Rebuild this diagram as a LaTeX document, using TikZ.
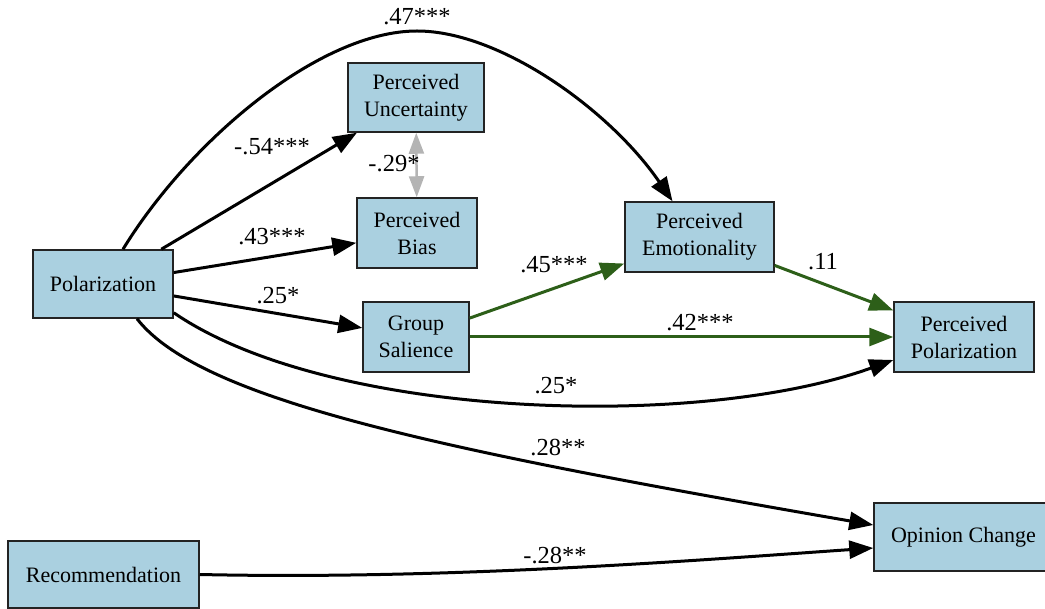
\documentclass[tikz,border=0pt]{standalone}
\usepackage{fontspec}
\setmainfont{LiberationSerif}[Extension=.ttf, UprightFont=*-Regular, BoldFont=*-Bold]
\usetikzlibrary{arrows.meta}
\definecolor{boxfill}{RGB}{170,208,224}
\definecolor{pathgreen}{RGB}{45,95,25}
\definecolor{corrgray}{RGB}{180,180,180}
\definecolor{boxline}{RGB}{35,35,35}
\tikzset{
  box/.style={draw=boxline, line width=1.5pt, fill=boxfill, inner sep=0pt, align=center,
    font=\rmfamily\fontsize{22}{27}\selectfont},
  lbl/.style={anchor=base, inner sep=0pt, font=\rmfamily\fontsize{24.5}{28}\selectfont},
  edgeblk/.style={line width=3pt, draw=black, -{Triangle[length=24pt,width=18pt]}},
  edgegrn/.style={line width=3pt, draw=pathgreen, -{Triangle[length=24pt,width=18pt]}},
  edgecorr/.style={line width=2.5pt, draw=corrgray,
    {Triangle[length=21pt,width=15pt]}-{Triangle[length=21pt,width=15pt]}},
}
\begin{document}
\begin{tikzpicture}[x=1pt,y=-1pt]
\useasboundingbox (0,0) rectangle (1045,609);
% nodes
\node[box, minimum width=140pt, minimum height=68pt] (pol) at (103,284) {Polarization};
\node[box, minimum width=136pt, minimum height=69pt] (unc) at (416,97.5) {Perceived\\Uncertainty};
\node[box, minimum width=120pt, minimum height=70pt] (bias) at (417,233) {Perceived\\Bias};
\node[box, minimum width=149pt, minimum height=70pt] (emo) at (699.5,237) {Perceived\\Emotionality};
\node[box, minimum width=140pt, minimum height=70pt] (pp) at (964,337) {Perceived\\Polarization};
\node[box, minimum width=106pt, minimum height=70pt] (grp) at (416,337) {Group\\Salience};
\node[box, minimum width=191pt, minimum height=67pt] (rec) at (103.5,574.5) {Recommendation};
\node[box, minimum width=179pt, minimum height=68pt] (opc) at (963.5,537) {Opinion Change};
\coordinate (apex) at (417,31);
% edges
\draw[edgeblk] (pol) -- (unc);
\draw[edgeblk] (pol) -- (bias);
\draw[edgeblk] (pol) -- (grp);
\draw[edgeblk] ([xshift=20pt]pol.north) .. controls (190,140) and (320,31) .. (apex)
  .. controls (500,31) and (610,110) .. ([xshift=-27pt]emo.north);
\draw[edgeblk] ([yshift=6pt]pol.south east) .. controls (330,420) and (700,430) .. ([yshift=-23pt]pp.west);
\draw[edgeblk] ([xshift=34pt]pol.south) .. controls (200,400) and (440,450) .. ([yshift=12pt]opc.west);
\draw[edgeblk] (rec.east) .. controls (450,580) and (700,560) .. ([yshift=-11pt]opc.west);
\draw[edgegrn] (grp) -- (emo);
\draw[edgegrn] (grp) -- (pp);
\draw[edgegrn] (emo) -- (pp);
\draw[edgecorr] (bias) -- (unc);
% labels
\node[lbl] (l47) at (417,25) {.47***};
\node[lbl] (l54) at (272,155) {-.54***};
\node[lbl] (l43) at (272,245) {.43***};
\node[lbl] (l25a) at (278,304) {.25*};
\node[lbl] (l29) at (394,172) {-.29*};
\node[lbl] (l45) at (554,273) {.45***};
\node[lbl] (l11) at (823,270) {.11};
\node[lbl] (l42) at (700,331) {.42***};
\node[lbl] (l25b) at (556,394) {.25*};
\node[lbl] (l28a) at (558,456) {.28**};
\node[lbl] (l28b) at (555,564) {-.28**};
\end{tikzpicture}
\end{document}
